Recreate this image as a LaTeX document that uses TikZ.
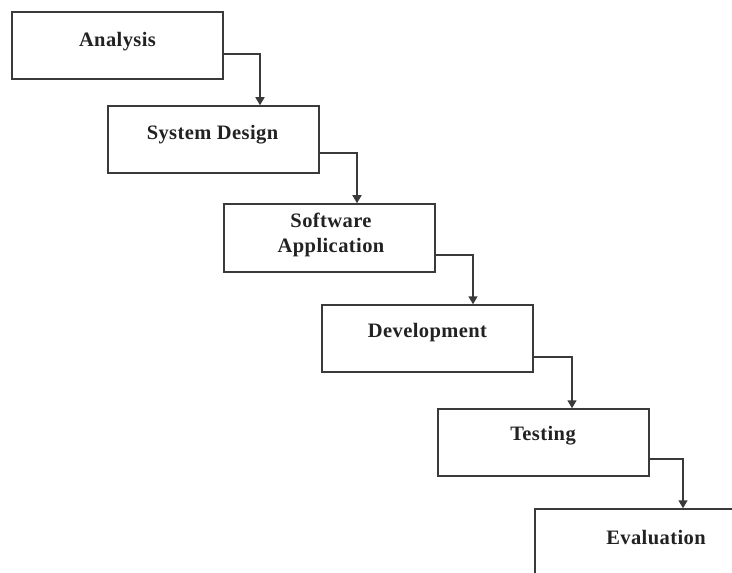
\documentclass[tikz,border=0pt]{standalone}
\usepackage{fontspec}
\setmainfont{Liberation Serif}[LetterSpace=2]
\usetikzlibrary{arrows.meta}
\definecolor{boxline}{HTML}{3A3A3A}
\definecolor{txt}{HTML}{222222}
\tikzset{
  stage/.style={draw=boxline, line width=1.5bp, minimum width=211bp, minimum height=67bp, inner sep=0pt, fill=white},
  lbl/.style={text=txt, font=\fontsize{20.5bp}{25bp}\selectfont\bfseries, align=center, inner sep=0pt},
  flow/.style={draw=boxline, line width=1.5bp, -{Triangle[width=9bp,length=8bp]}}
}
\begin{document}
\begin{tikzpicture}[x=1bp,y=-1bp]
\useasboundingbox (0,0) rectangle (732,573);
\clip (0,0) rectangle (732,573);
\fill[white] (0,0) rectangle (732,573);
\node[stage] (a) at (117.5,45.5) {};
\node[stage] (b) at (213.5,139.5) {};
\node[stage, minimum height=68bp] (c) at (329.5,238) {};
\node[stage] (d) at (427.5,338.5) {};
\node[stage] (e) at (543.5,442.5) {};
\node[stage] (f) at (640.5,542.5) {};
\node[lbl] (ta) at (117.5,42) {Analysis};
\node[lbl] (tb) at (212.5,135) {System Design};
\node[lbl] (tc) at (331,234.5) {Software\\Application};
\node[lbl] (td) at (427.5,333) {Development};
\node[lbl] (te) at (543,436) {Testing};
\node[lbl] (tf) at (656,538) {Evaluation};
\draw[flow] ([yshift=-8.5bp]a.east) -| ([xshift=46.5bp]b.north);
\draw[flow] ([yshift=-13.5bp]b.east) -| ([xshift=27.5bp]c.north);
\draw[flow] ([yshift=-17bp]c.east) -| ([xshift=45.5bp]d.north);
\draw[flow] ([yshift=-18.5bp]d.east) -| ([xshift=28.5bp]e.north);
\draw[flow] ([yshift=-16.5bp]e.east) -| ([xshift=42.5bp]f.north);
\end{tikzpicture}
\end{document}
